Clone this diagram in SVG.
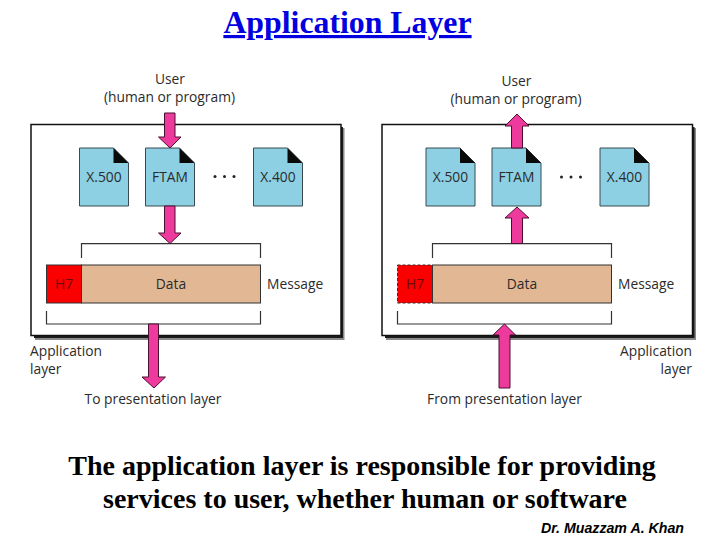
<svg xmlns="http://www.w3.org/2000/svg" width="720" height="540" viewBox="0 0 720 540">
<defs>
<style>
.lb{font-family:"Open Sans","Liberation Sans",sans-serif;font-size:13.800px;fill:#2b2b2b}
.c{text-anchor:middle}
.box{fill:#fff;stroke:#111;stroke-width:1.5}
.sh{fill:#1c1c1c}
.sh2{fill:#8a8a8a}
.doc{fill:#8dd0e4;stroke:#3a4a50;stroke-width:1}
.fold{fill:#0a0a0a}
.arr{fill:#ee3a9c;stroke:#4a1030;stroke-width:1}
.br{fill:none;stroke:#333;stroke-width:1.2}
.data{fill:#e2b894;stroke:#333;stroke-width:1}
.h7{fill:#fb0000;stroke:#333;stroke-width:1}
.h7d{fill:#fb0000;stroke:#333;stroke-width:1;stroke-dasharray:3 2}
.h7t{font-family:"Open Sans","Liberation Sans",sans-serif;font-size:13.800px;fill:#6e0a0a;text-anchor:middle}
.cap{font-family:"Liberation Serif",serif;font-weight:bold;font-size:28px;fill:#000;text-anchor:middle}
</style>
<path id="d" d="M0 0H34L49 15V58H0Z"/>
<path id="f" d="M34 0L49 15H34Z"/>
</defs>
<text id="title" x="347.500" y="33" font-family="Liberation Serif, serif" font-weight="bold" font-size="31.800" fill="#0000e0" text-anchor="middle" text-decoration="underline">Application Layer</text>

<g id="left-panel">
<rect class="sh2" x="35" y="128" width="309.500" height="212"/>
<rect class="sh" x="34" y="127" width="309" height="211"/>
<rect class="box" x="31" y="124.500" width="310" height="211"/>
</g>
<g id="left-x500" transform="translate(79.500,148)"><use href="#d" class="doc"/><use href="#f" class="fold"/><text class="lb c" x="24.500" y="34">X.500</text></g>
<g id="left-ftam" transform="translate(145.500,148)"><use href="#d" class="doc"/><use href="#f" class="fold"/><text class="lb c" x="24.500" y="34">FTAM</text></g>
<g id="left-x400" transform="translate(253.500,148)"><use href="#d" class="doc"/><use href="#f" class="fold"/><text class="lb c" x="24.500" y="34">X.400</text></g>
<g id="left-dots" fill="#222"><circle cx="215" cy="176.500" r="1.500"/><circle cx="224.500" cy="176.500" r="1.500"/><circle cx="234" cy="176.500" r="1.500"/></g>
<g id="left-message">
<path class="br" d="M81.500 258V243.700H260.500V258"/>
<rect class="h7" x="46.500" y="265" width="35" height="38"/>
<rect class="data" x="81.500" y="265" width="179" height="38"/>
<text class="h7t" x="64" y="289">H7</text>
<text class="lb c" x="171" y="289">Data</text>
<text class="lb" x="267" y="289">Message</text>
<path class="br" d="M46.500 311V324H260.500V311"/>
</g>

<g id="right-panel">
<rect class="sh2" x="386" y="128" width="310" height="212"/>
<rect class="sh" x="385" y="127" width="309.500" height="211"/>
<rect class="box" x="382" y="124.500" width="310.500" height="211"/>
</g>
<g id="right-x500" transform="translate(426,148)"><use href="#d" class="doc"/><use href="#f" class="fold"/><text class="lb c" x="24.500" y="34">X.500</text></g>
<g id="right-ftam" transform="translate(492,148)"><use href="#d" class="doc"/><use href="#f" class="fold"/><text class="lb c" x="24.500" y="34">FTAM</text></g>
<g id="right-x400" transform="translate(600,148)"><use href="#d" class="doc"/><use href="#f" class="fold"/><text class="lb c" x="24.500" y="34">X.400</text></g>
<g id="right-dots" fill="#222"><circle cx="561.500" cy="177" r="1.500"/><circle cx="571" cy="177" r="1.500"/><circle cx="580.500" cy="177" r="1.500"/></g>
<g id="right-message">
<path class="br" d="M432.500 258V243.700H611.500V258"/>
<rect class="h7d" x="397.500" y="265" width="35" height="38"/>
<rect class="data" x="432.500" y="265" width="179" height="38"/>
<text class="h7t" x="415" y="289">H7</text>
<text class="lb c" x="522" y="289">Data</text>
<text class="lb" x="618" y="289">Message</text>
<path class="br" d="M397.500 311V324H611.500V311"/>
</g>

<g id="connectors">
<path class="arr" d="M164.500 113H175V137H181L170 148L158.500 137H164.500Z"/>
<path class="arr" d="M164.500 206H175V233H181L170 243.500L158.500 233H164.500Z"/>
<path class="arr" d="M148.500 324H158.500V377H165.500L154 388L142 377H148.500Z"/>
<path class="arr" d="M517 114L529 126H522.500V148H511.500V126H505Z"/>
<path class="arr" d="M517 207L529 218H522.500V243.500H511.500V218H505Z"/>
<path class="arr" d="M504.500 324L515.500 335H510V388H499V335H493Z"/>
</g>

<g id="labels">
<text class="lb c" x="170" y="84">User</text>
<text class="lb c" x="169.500" y="102">(human or program)</text>
<text class="lb c" x="516.500" y="86">User</text>
<text class="lb c" x="516" y="104">(human or program)</text>
<text class="lb" x="30" y="356">Application</text>
<text class="lb" x="30" y="374">layer</text>
<text class="lb" x="692" y="356" text-anchor="end">Application</text>
<text class="lb" x="692" y="374" text-anchor="end">layer</text>
<text class="lb c" x="153" y="404">To presentation layer</text>
<text class="lb c" x="504.500" y="404">From presentation layer</text>
</g>
<text class="cap" x="362" y="475">The application layer is responsible for providing</text>
<text class="cap" x="365" y="508">services to user, whether human or software</text>
<text id="credit" x="684" y="532.500" text-anchor="end" font-family="Liberation Sans, sans-serif" font-weight="bold" font-style="italic" font-size="14.200" fill="#000">Dr. Muazzam A. Khan</text>
</svg>
